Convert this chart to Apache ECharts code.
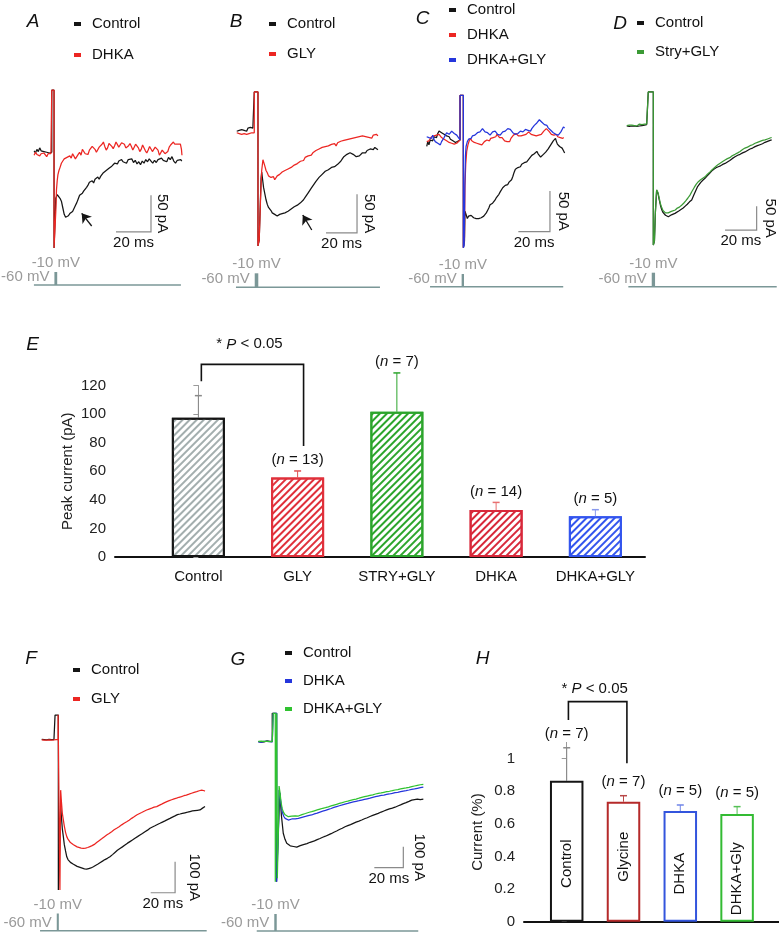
<!DOCTYPE html>
<html>
<head>
<meta charset="utf-8">
<script src="https://cdn.jsdelivr.net/npm/echarts@6/dist/echarts.min.js"></script>
<style>
html, body { margin: 0; padding: 0; background: #fff; }
#container { width: 779px; height: 933px; }
</style>
</head>
<body>
<div id="container"></div>
<script>
var dom = document.getElementById('container');
var myChart = echarts.init(dom, null, { renderer: 'canvas' });
var FONT = '"Liberation Sans", Arial, Helvetica, sans-serif';

// ---- panel A (ms, pA) ----
var aControl = [[-10.8,3],[-10,0],[-9.2,5],[-8.4,2],[-7.6,7],[-6.8,3],[-6,5],[-5.2,2],[-4.4,4],[-3.6,1],[-2.8,3],[-2,0],[-1.2,1],
  [-0.7,1],[-0.7,86],[0.6,86],[0.6,-130],[1.2,-128],[1.6,-62],
  [2.4,-57],[3.2,-58],[4.0,-62],[4.8,-66],[5.6,-75],[6.4,-84],[7.2,-88],[8.0,-90],[8.8,-86],[9.6,-83],[10.4,-85],[11.2,-80],[12.0,-78],
  [12.8,-72],[13.6,-68],[14.4,-63],[15.2,-58],[16.0,-60],[16.8,-55],[17.6,-52],[18.4,-53],[19.2,-47],[20.0,-44],[20.8,-40],[21.6,-41],
  [22.4,-38],[23.2,-41],[24.0,-36],[24.8,-38],[25.6,-33],[26.4,-36],[27.2,-32],[28.0,-30],[28.8,-27],[29.6,-29],[30.4,-24],[31.2,-26],
  [32.0,-21],[32.8,-23],[33.6,-18],[34.4,-20],[35.2,-14],[36.0,-12],[36.8,-15],[37.6,-11],[38.4,-13],[39.2,-9],[40.0,-12],[41.0,-10],
  [42.0,-14],[43.0,-9],[44.0,-11],[45.0,-8],[46.0,-13],[47.0,-10],[48.0,-15],[49.0,-12],[50.0,-16],[51.0,-11],[52.0,-14],[53.0,-9],
  [54.0,-12],[55.0,-8],[56.0,-11],[57.0,-14],[58.0,-10],[59.0,-13],[60.0,-9],[61.0,-11],[62.0,-7],[63.0,-10],[64.0,-8],[65.0,-12],
  [66.0,-6],[67.0,-9],[68.0,-5],[69.0,-11],[70.0,-14],[71.0,-10],[72.0,-12],[73.0,-9],[73.6,-11]];
var aDhka = [[-10.8,-3],[-10,1],[-9.2,-2],[-8.4,0],[-7.6,-4],[-6.8,-1],[-6,-3],[-5.2,0],[-4.4,-2],[-3.6,-5],[-2.8,-1],[-2,-3],[-1.2,-1],
  [-0.7,0],[-0.7,86],[0.6,86],[0.6,-130],[1.2,-128],[1.6,-80],[2.0,-50],[2.4,-38],[2.8,-30],[3.4,-24],[4.0,-20],[4.8,-14],[5.6,-11],
  [6.4,-8],[7.2,-10],[8.0,-6],[8.8,-8],[9.6,-4],[10.4,-7],[11.2,-1],[12.0,-3],[12.8,-8],[13.6,-6],[14.4,-2],[15.2,1],[16.0,-3],[16.8,5],
  [17.6,3],[18.4,-1],[19.2,1],[20.0,-2],[20.8,4],[21.6,2],[22.4,9],[23.2,11],[24.0,5],[24.8,1],[25.6,3],[26.4,8],[27.2,6],[28.0,12],
  [28.8,15],[29.6,9],[30.4,4],[31.2,7],[32.0,13],[32.8,14],[33.6,9],[34.4,6],[35.2,10],[36.0,15],[36.8,13],[37.6,8],[38.4,10],[39.2,14],
  [40.0,16],[40.8,12],[41.6,7],[42.4,5],[43.2,10],[44.0,13],[44.8,9],[45.6,4],[46.4,8],[47.2,12],[48.0,14],[48.8,7],[49.6,2],[50.4,5],
  [51.2,11],[52.0,9],[52.8,3],[53.6,0],[54.4,4],[55.2,9],[56.0,7],[56.8,2],[57.6,3],[58.4,8],[59.2,9],[60.0,4],[60.8,-3],[61.6,-1],
  [62.4,4],[63.2,3],[64.0,-1],[64.8,-3],[65.6,2],[66.4,8],[67.2,11],[68.0,13],[68.8,15],[69.6,12],[70.4,10],[71.2,12],[72.0,14],
  [72.8,12],[73.4,5],[73.7,-3]];

// ---- panel B ----
var bControl = [[-12.1,1],[-11.3,-1],[-10.5,2],[-9.7,0],[-8.9,3],[-8.1,1],[-7.3,2],[-6.5,3],[-5.7,1],[-4.9,5],[-4.1,3],[-3.3,6],[-2.5,4],[-1.7,5],
  [-0.8,3],[-0.8,52],[1.6,52],[1.6,-148],[2.4,-140],[3.0,-100],[3.6,-60],[4.0,-52],[4.6,-62],[5.2,-72],[6.0,-80],[6.8,-88],[7.6,-94],
  [8.4,-98],[9.2,-100],[10.0,-102],[10.8,-105],[11.6,-104],[12.4,-107],[13.2,-106],[14.0,-109],[14.8,-110],[15.6,-107],[16.4,-109],
  [17.2,-106],[18.0,-108],[19.0,-105],[20.0,-106],[21.0,-103],[22.0,-104],[23.0,-100],[24.0,-101],[25.0,-97],[26.0,-98],[27.0,-95],
  [28.0,-94],[29.0,-92],[30.0,-90],[31.0,-88],[32.0,-85],[33.0,-82],[34.0,-79],[35.0,-77],[36.0,-73],[37.0,-70],[38.0,-67],[39.0,-64],
  [40.0,-62],[41.0,-59],[42.0,-57],[43.0,-55],[44.0,-53],[45.0,-51],[46.0,-50],[47.0,-49],[48.0,-48],[49.0,-46],[50.0,-47],[51.0,-45],
  [52.0,-44],[53.0,-42],[54.0,-41],[55.0,-38],[56.0,-35],[57.0,-32],[58.0,-30],[59.0,-29],[60.0,-28],[61.0,-27],[62.0,-28],[63.0,-29],
  [64.0,-31],[65.0,-32],[66.0,-30],[67.0,-31],[68.0,-29],[69.0,-27],[70.0,-26],[71.0,-27],[72.0,-24],[73.0,-25],[74.0,-22],[75.0,-21],
  [76.0,-23],[77.0,-20],[78.0,-22],[79.0,-23]];
var bGly = [[-12.1,-1],[-11.3,1],[-10.5,-2],[-9.7,0],[-8.9,-3],[-8.1,-1],[-7.3,-2],[-6.5,0],[-5.7,-3],[-4.9,-1],[-4.1,-2],[-3.3,-4],[-2.5,-1],
  [-1.7,-2],[-0.8,-1],[-0.8,52],[1.6,52],[1.6,-148],[2.4,-140],[3.2,-90],[4.0,-50],[4.8,-36],[5.4,-38],[6.0,-44],[6.8,-50],[7.6,-53],
  [8.4,-57],[9.2,-56],[10.0,-59],[10.8,-61],[11.6,-58],[12.4,-62],[13.2,-60],[14.0,-57],[14.8,-58],[15.6,-55],[16.4,-56],[17.2,-52],
  [18.0,-54],[19.0,-50],[20.0,-51],[21.0,-48],[22.0,-49],[23.0,-46],[24.0,-47],[25.0,-43],[26.0,-44],[27.0,-41],[28.0,-42],[29.0,-38],
  [30.0,-36],[31.0,-37],[32.0,-33],[33.0,-34],[34.0,-31],[35.0,-29],[36.0,-30],[37.0,-27],[38.0,-26],[39.0,-24],[40.0,-25],[41.0,-22],
  [42.0,-23],[43.0,-20],[44.0,-21],[45.0,-19],[46.0,-20],[47.0,-18],[48.0,-19],[49.0,-16],[50.0,-17],[51.0,-15],[52.0,-18],[53.0,-14],
  [54.0,-15],[55.0,-12],[56.0,-14],[57.0,-11],[58.0,-13],[59.0,-10],[60.0,-12],[61.0,-9],[62.0,-11],[63.0,-8],[64.0,-10],[65.0,-7],
  [66.0,-9],[67.0,-6],[68.0,-8],[69.0,-5],[70.0,-7],[71.0,-6],[72.0,-4],[73.0,-7],[74.0,-5],[75.0,-8],[76.0,-4],[77.0,-6],[78.0,-3],[79.0,-5]];

// ---- panel C ----
var cControl = [[-21.7,-8],[-21,-2],[-20.3,-6],[-19.5,0],[-18.7,2],[-17.9,-1],[-17.1,4],[-16.3,6],[-15.5,3],[-14.7,8],[-13.9,11],[-13.1,12],
  [-12.3,9],[-11.5,10],[-10.7,7],[-9.9,8],[-9.1,5],[-8.3,3],[-7.5,4],[-6.7,1],[-5.9,2],[-5.1,-1],[-4.3,0],[-3.5,-3],[-2.7,-2],
  [-0.6,0],[-0.6,55],[1.5,55],[1.5,-133],[2.2,-125],[2.5,-88],[3.2,-92],[4.0,-97],[4.8,-94],[5.6,-96],[6.4,-93],[7.2,-95],[8.0,-96],
  [8.8,-94],[9.6,-97],[10.4,-95],[11.2,-97],[12.0,-98],[12.8,-96],[13.6,-97],[14.4,-94],[15.2,-93],[16.0,-90],[16.8,-87],[17.6,-84],
  [18.4,-80],[19.2,-81],[20.0,-78],[20.8,-76],[21.6,-74],[22.4,-71],[23.2,-69],[24.0,-67],[24.8,-64],[25.6,-62],[26.4,-59],[27.2,-57],
  [28.0,-56],[28.8,-54],[29.6,-55],[30.4,-52],[31.2,-53],[32.0,-49],[32.8,-45],[33.6,-40],[34.4,-36],[35.2,-37],[36.0,-34],[36.8,-32],
  [37.6,-33],[38.4,-30],[39.2,-31],[40.0,-28],[40.8,-29],[41.6,-27],[42.4,-25],[43.2,-23],[44.0,-21],[44.8,-19],[45.6,-20],[46.4,-17],
  [47.2,-15],[48.0,-14],[48.8,-17],[49.6,-19],[50.4,-21],[51.2,-20],[52.0,-18],[52.8,-17],[53.6,-15],[54.4,-13],[55.2,-11],[56.0,-9],
  [56.8,-6],[57.6,-4],[58.4,-1],[59.2,1],[59.8,2],[60.4,-2],[61.0,-5],[61.6,-6],[62.4,-8],[63.2,-7],[64.0,-10],[64.8,-13],[65.6,-16]];
var cDhka = [[-21.7,-2],[-21,-4],[-20.3,-1],[-19.5,1],[-18.7,4],[-17.9,2],[-17.1,5],[-16.3,3],[-15.5,6],[-14.7,4],[-13.9,7],[-13.1,5],
  [-12.3,3],[-11.5,4],[-10.7,1],[-9.9,2],[-9.1,-1],[-8.3,0],[-7.5,-3],[-6.7,-1],[-5.9,-4],[-5.1,-2],[-4.3,-5],[-3.5,-3],[-2.7,-4],
  [-0.6,0],[-0.6,55],[1.5,55],[1.5,-133],[2.2,-120],[2.5,-56],[3.0,-30],[3.6,-14],[4.4,-6],[5.2,-1],[6.0,2],[6.8,-1],[7.6,0],[8.4,-3],
  [9.2,-1],[10,-4],[10.8,-2],[11.6,-5],[12.4,-3],[13.2,-6],[14,-5],[14.8,-2],[15.6,-4],[16.4,0],[17.2,-2],[18,-1],[18.8,2],[19.6,0],
  [20.4,3],[21.2,5],[22,4],[22.8,7],[23.6,5],[24.4,3],[25.2,1],[26,3],[26.8,2],[27.6,-1],[28.4,1],[29.2,-2],[30,0],[30.8,-2],[31.6,2],
  [32.4,4],[33.2,6],[34,5],[34.8,8],[35.6,7],[36.4,5],[37.2,3],[38,5],[38.8,4],[39.6,6],[40.4,8],[41.2,7],[42,9],[42.8,10],[43.6,9],
  [44.4,7],[45.2,5],[46,6],[46.8,4],[47.6,5],[48.4,3],[49.2,6],[50,8],[50.8,7],[51.6,9],[52.4,11],[53.2,12],[54,14],[54.8,13],[55.6,11],
  [56.4,9],[57.2,7],[58,8],[58.8,6],[59.6,5],[60.4,7],[61.2,4],[62,5],[62.8,3],[63.6,4],[64.4,2],[65,3]];
var cDhkaGly = [[-21.7,4],[-21,6],[-20.3,3],[-19.5,5],[-18.7,2],[-17.9,6],[-17.1,1],[-16.3,-2],[-15.5,0],[-14.7,-4],[-13.9,-3],[-13.1,-6],
  [-12.3,-2],[-11.5,0],[-10.7,3],[-9.9,6],[-9.1,9],[-8.3,10],[-7.5,7],[-6.7,9],[-5.9,11],[-5.1,10],[-4.3,8],[-3.5,9],[-2.7,6],
  [-0.6,0],[-0.6,55],[1.5,55],[1.5,-133],[2.0,-130],[2.4,-60],[2.8,-20],[3.2,-8],[4.0,-2],[4.8,1],[5.6,3],[6.4,2],[7.2,5],[8,7],[8.8,6],
  [9.6,8],[10.4,9],[11.2,11],[12,10],[12.8,12],[13.6,14],[14.4,12],[15.2,10],[16,8],[16.8,9],[17.6,7],[18.4,6],[19.2,8],[20,10],[20.8,9],
  [21.6,11],[22.4,9],[23.2,7],[24,8],[24.8,6],[25.6,8],[26.4,10],[27.2,12],[28,11],[28.8,13],[29.6,14],[30.4,15],[31.2,13],[32,11],
  [32.8,9],[33.6,8],[34.4,7],[35.2,6],[36,8],[36.8,9],[37.6,11],[38.4,12],[39.2,10],[40,12],[40.8,13],[41.6,11],[42.4,12],[43.2,10],
  [44,11],[44.8,14],[45.6,16],[46.4,18],[47.2,19],[48,21],[48.8,23],[49.6,25],[50.4,24],[51.2,22],[52,20],[52.8,19],[53.6,20],[54.4,18],
  [55.2,15],[56,14],[56.8,12],[57.6,10],[58.4,9],[59.2,8],[60,7],[60.8,8],[61.6,6],[62.4,7],[63.2,10],[64,13],[64.8,16],[65.6,15]];

// ---- panel D ----
var dControl = [[-14.7,0],[-13.9,1],[-13.1,-1],[-12.3,1],[-11.5,0],[-10.7,2],[-9.9,0],[-9.1,1],[-8.3,-1],[-7.5,1],[-6.7,0],[-5.9,2],[-5.1,1],
  [-4.3,3],[-3.5,2],[-2.7,4],[-2.1,3],[-1.1,3],[-1.1,71],[2.1,71],[2.1,-248],[2.8,-240],[3.4,-180],[4.2,-134],[5.0,-140],[5.8,-153],
  [6.6,-165],[7.4,-174],[8.2,-180],[9.0,-184],[9.8,-186],[10.6,-188],[11.6,-189],[12.6,-187],[13.6,-185],[14.7,-184],[15.8,-182],
  [17,-179],[18.2,-177],[19.6,-174],[21,-171],[22.3,-167],[23.6,-163],[25,-158],[26.4,-154],[27.6,-145],[28.8,-136],[30,-127],
  [30.6,-123],[32,-118],[33.4,-113],[34.8,-109],[36.2,-104],[37.6,-99],[39,-94],[40.4,-90],[41.8,-87],[43.2,-85],[44.6,-83],[46,-80],
  [47.5,-78],[49,-75],[50.5,-72],[52,-68],[53.8,-64],[55.5,-61],[57,-59],[58.6,-56],[60.1,-54],[61.7,-51],[63.3,-48],[64.9,-46],
  [66.5,-43],[68,-41],[69.6,-39],[71.2,-37],[72.8,-34],[74.4,-32],[76,-30],[77,-29]];
var dStryGly = [[-14.7,1],[-13.9,-1],[-13.1,2],[-12.3,0],[-11.5,2],[-10.7,-1],[-9.9,1],[-9.1,3],[-8.3,0],[-7.5,2],[-6.7,4],[-5.9,1],
  [-5.1,3],[-4.3,1],[-3.5,4],[-2.7,2],[-2.1,4],[-1.1,3],[-1.1,71],[2.1,71],[2.1,-248],[2.8,-240],[3.4,-180],[4.2,-133],[5.0,-138],
  [5.8,-150],[6.6,-162],[7.4,-170],[8.2,-176],[9.0,-179],[9.8,-181],[10.5,-182],[11.5,-181],[12.5,-180],[13.5,-178],[14.7,-177],
  [16,-175],[17.3,-171],[18.6,-169],[20,-165],[21.3,-161],[22.6,-156],[24,-150],[25.3,-144],[26.6,-136],[28,-128],[29.3,-121],
  [30.6,-116],[32,-112],[33.4,-109],[34.8,-106],[36.2,-101],[37.6,-97],[39,-92],[40.4,-88],[41.8,-84],[43.2,-80],[44.6,-77],[46,-74],
  [47.5,-71],[49,-68],[50.5,-66],[52,-62],[53.8,-59],[55.5,-56],[57,-53],[58.6,-49],[60.1,-46],[61.7,-44],[63.3,-41],[64.9,-39],
  [66.5,-36],[68,-34],[69.6,-32],[71.2,-30],[72.8,-29],[74.4,-27],[76,-25],[77,-24]];

// ---- panel F ----
var fControl = [[-12.5,0],[-11.5,2],[-10.5,-1],[-9.5,1],[-8.5,-2],[-7.5,1],[-6.5,0],[-5.5,2],[-4.5,-1],[-3.5,1],[-2.5,-1],[-1.6,0],
  [-1.6,78],[1.1,78],[1.1,-486],[2.2,-486],[2.6,-300],[3.0,-212],[3.6,-250],[4.4,-290],[5.2,-314],[6.0,-340],[7.0,-360],[8.0,-379],
  [9.0,-388],[10.0,-393],[11.0,-397],[12.0,-400],[13.5,-403],[15.0,-407],[16.5,-410],[18.0,-412],[19.5,-414],[21.0,-416],[22.5,-418],
  [24.3,-419],[26,-417],[27.8,-415],[29.8,-411],[31.5,-407],[33.3,-403],[35.2,-398],[37.3,-393],[39.3,-388],[41.3,-384],[43.4,-379],
  [45.5,-372],[47.5,-365],[49.5,-358],[51.6,-352],[53.6,-347],[55.7,-341],[57.8,-335],[59.8,-330],[61.8,-325],[63.9,-319],[66,-314],
  [68,-309],[70,-304],[72.1,-298],[74.2,-293],[76.2,-287],[78.2,-283],[80.3,-279],[82.3,-275],[84.4,-271],[86.4,-267],[88.5,-263],
  [90.5,-259],[92.6,-255],[94.6,-251],[96.7,-247],[98.7,-243],[100.8,-241],[102.8,-239],[104.9,-237],[107,-235],[109,-233],[111,-231],
  [113,-230],[115,-229],[117.2,-228],[119.3,-222],[121.3,-217]];
var fGly = [[-12.5,-2],[-11.5,0],[-10.5,-3],[-9.5,-1],[-8.5,-3],[-7.5,-1],[-6.5,-2],[-5.5,0],[-4.5,-3],[-3.5,-1],[-2.5,-2],[-1.6,-1],
  [0.9,0],[0.9,79],[2.4,79],[2.4,-486],[2.8,-486],[3.0,-164],[3.6,-200],[4.4,-240],[5.2,-260],[6.0,-280],[7.0,-300],[8.0,-314],
  [9.0,-322],[10,-328],[11,-333],[12,-336],[13.5,-340],[15,-344],[16.5,-347],[18,-349],[19.8,-351],[21.6,-352],[23.4,-351],[25.2,-349],
  [27,-346],[28.8,-343],[30.6,-339],[32.5,-333],[34.5,-327],[36.6,-321],[38.6,-315],[40.7,-309],[42.7,-304],[44.8,-298],[46.8,-292],
  [48.9,-287],[50.9,-282],[53,-276],[55,-271],[57.1,-266],[59.1,-261],[61.2,-255],[63.2,-250],[65.3,-244],[67.3,-240],[69.4,-236],
  [71.4,-232],[73.5,-228],[75.5,-225],[77.6,-222],[79.6,-219],[81.7,-217],[83.7,-213],[85.8,-209],[87.8,-205],[90,-201],[92,-198],
  [94,-195],[96,-192],[98,-190],[100,-187],[102,-185],[104,-182],[106,-180],[108.2,-177],[110.3,-174],[112.4,-171],[114.5,-169],
  [116.6,-166],[118.6,-164],[120.7,-166],[121.3,-167]];

// ---- panel G ----
var gControl = [[-11.5,0],[-10.5,3],[-9.5,-2],[-8.5,2],[-7.5,-1],[-6.5,1],[-5.5,4],[-4.5,0],[-3.5,2],[-2.5,-1],[-1.9,0],[-1.9,135],
  [1.0,135],[1.0,-667],[2.0,-667],[2.4,-400],[3.4,-246],[4.4,-350],[5.7,-436],[6.9,-465],[8.1,-484],[9.3,-492],[10.5,-496],[11.7,-494],
  [12.8,-499],[13.8,-500],[15,-502],[16.2,-497],[17.4,-495],[18.4,-492],[19.6,-490],[20.8,-486],[22,-485],[23.1,-481],[24.2,-479],
  [25.3,-476],[27.2,-472],[29.1,-466],[31,-461],[32.9,-455],[34.8,-450],[36.8,-444],[38.7,-438],[40.6,-431],[42.5,-425],[44.4,-418],
  [46.4,-412],[48.3,-405],[50.2,-400],[52.1,-395],[54,-389],[55.9,-383],[57.9,-378],[59.8,-373],[61.7,-367],[63.6,-362],[65.5,-356],
  [67.4,-351],[69.3,-346],[71.2,-341],[73.2,-335],[75.1,-330],[77,-325],[78.9,-320],[80.9,-316],[82.8,-312],[84.7,-306],[86.6,-301],
  [88.5,-295],[90.4,-290],[92.4,-284],[94.3,-278],[96.2,-276],[98.2,-274],[100.2,-276],[102.3,-274]];
var gDhka = [[-11.5,-1],[-10.5,1],[-9.5,-2],[-8.5,0],[-7.5,2],[-6.5,-1],[-5.5,1],[-4.5,-2],[-3.5,0],[-2.5,1],[-1.9,-1],
  [-1.2,0],[-1.2,135],[1.2,135],[1.2,-667],[2.0,-660],[2.4,-420],[2.8,-230],[3.4,-250],[4.2,-300],[5.0,-335],[6,-355],[7,-365],[8,-370],
  [9.2,-373],[10.4,-371],[11.6,-368],[12.8,-369],[14,-367],[15,-365],[16.1,-365],[17.4,-362],[18.6,-360],[19.8,-358],[21,-356],
  [22.3,-354],[23.6,-351],[25.3,-349],[27.2,-344],[29.1,-340],[31,-335],[32.9,-331],[34.8,-327],[36.8,-322],[38.7,-318],[40.6,-313],
  [42.5,-309],[44.4,-305],[46.4,-301],[48.3,-297],[50.2,-294],[52.1,-290],[54,-287],[55.9,-284],[57.9,-281],[59.8,-278],[61.7,-275],
  [63.6,-272],[65.5,-269],[67.4,-265],[69.3,-262],[71.2,-259],[73.2,-256],[75.1,-254],[77,-251],[78.9,-249],[80.9,-246],[82.8,-243],
  [84.7,-241],[86.6,-238],[88.5,-235],[90.4,-233],[92.4,-230],[94.3,-227],[96.2,-225],[98.2,-222],[100.2,-219],[102.3,-216]];
var gDhkaGly = [[-11.5,2],[-10.5,0],[-9.5,3],[-8.5,-1],[-7.5,2],[-6.5,0],[-5.5,1],[-4.5,3],[-3.5,0],[-2.5,2],[-1.9,1],
  [-1.2,0],[-1.2,135],[0.2,135],[0.2,-667],[1.2,-667],[1.2,135],[1.6,135],[1.6,-650],[2.4,-400],[2.8,-211],[3.4,-240],[4.2,-290],
  [5.0,-320],[6,-338],[7,-348],[8,-353],[9.2,-357],[10.4,-356],[11.6,-354],[12.8,-355],[14,-353],[15,-352],[16.1,-354],[17.4,-350],
  [18.6,-347],[19.8,-345],[21,-342],[22.3,-340],[23.6,-336],[25.3,-333],[27.2,-329],[29.1,-325],[31,-321],[32.9,-317],[34.8,-314],
  [36.8,-310],[38.7,-306],[40.6,-302],[42.5,-298],[44.4,-294],[46.4,-290],[48.3,-286],[50.2,-283],[52.1,-279],[54,-276],[55.9,-273],
  [57.9,-269],[59.8,-265],[61.7,-262],[63.6,-259],[65.5,-256],[67.4,-253],[69.3,-249],[71.2,-246],[73.2,-244],[75.1,-241],[77,-238],
  [78.9,-236],[80.9,-233],[82.8,-230],[84.7,-228],[86.6,-225],[88.5,-222],[90.4,-220],[92.4,-217],[94.3,-214],[96.2,-211],[98.2,-208],
  [100.2,-205],[102.3,-203]];

// voltage command: [line start ms, line end ms, step start ms, step end ms]
var protoA = [-10.9, 73.1, 0.8, 2.4];
var protoB = [-12.6, 80.3, -0.5, 1.8];
var protoC = [-19.6, 64.7, 0.4, 1.9];
var protoD = [-13.7, 80.2, 1.1, 3.2];
var protoF = [-13.9, 122.7, -0.2, 1.5];
var protoG = [-12.6, 98.8, -0.5, 1.2];
// scale bars: [t start, I start, ms length, pA length]
var scaleA = [36, -108, 20, 50];
var scaleB = [45.5, -131, 20, 50];
var scaleC = [36.3, -113, 20, 50];
var scaleD = [47.5, -217, 20, 50];
var scaleF = [76.8, -495, 20, 100];
var scaleG = [68.5, -600, 20, 100];
var arrowA = [[22.1, -100], [16.4, -82.6]];
var arrowB = [[36.3, -127.3], [30.5, -107.8]];

// ---- panel E ----
var eCats = ['Control', 'GLY', 'STRY+GLY', 'DHKA', 'DHKA+GLY'];
var eMean = [97.5, 55.6, 101.6, 32.8, 28.5];
var eErr = [15.4, 4.6, 27.2, 5.4, 4.6];
var eN = ['', '13', '7', '14', '5'];
var eSig = [0.03, 1.06, 134.8, 123, 77.6];

// ---- panel H ----
var hCats = ['Control', 'Glycine', 'DHKA', 'DHKA+Gly'];
var hMean = [0.865, 0.736, 0.679, 0.661];
var hErr = [0.202, 0.037, 0.037, 0.045];
var hN = ['7', '7', '5', '5'];
var hSig = [0.03, 1.06, 1.35, 1.237, 0.972];
var hTicks = [0, 0.2, 0.4, 0.6, 0.8, 1];

var BLACK = '#151515', RED = '#ec2622', BLUE = '#2536dc', GREEN = '#3b9a35', LGREEN = '#30c230', PROTO = '#7b9797';

var panels = [
  { key: 'A', x0: 53, sx: 1.75, y0: 153, sy: 0.73, vLine: 285, vTop: 272, left: 20, top: 80, width: 180, height: 220,
    traces: [['Control', aControl, BLACK], ['DHKA', aDhka, RED]], proto: protoA, scale: scaleA, units: ['20 ms', '50 pA'], yGap: 11,
    legend: [74, 15, 13], arrow: arrowA },
  { key: 'B', x0: 255.5, sx: 1.55, y0: 132, sy: 0.77, vLine: 287.3, vTop: 273.3, left: 215, top: 80, width: 180, height: 220,
    traces: [['Control', bControl, BLACK], ['GLY', bGly, RED]], proto: protoB, scale: scaleB, units: ['20 ms', '50 pA'], yGap: 12,
    legend: [269, 15, 12], arrow: arrowB },
  { key: 'C', x0: 461, sx: 1.58, y0: 140, sy: 0.81, vLine: 286.7, vTop: 274, left: 400, top: 80, width: 180, height: 220,
    traces: [['Control', cControl, BLACK], ['DHKA', cDhka, RED], ['DHKA+GLY', cDhkaGly, BLUE]], proto: protoC, scale: scaleC,
    units: ['20 ms', '50 pA'], yGap: 13, legend: [449, 1, 7] },
  { key: 'D', x0: 650, sx: 1.58, y0: 126, sy: 0.48, vLine: 286.7, vTop: 272.7, left: 600, top: 80, width: 179, height: 220,
    traces: [['Control', dControl, BLACK], ['Stry+GLY', dStryGly, GREEN]], proto: protoD, scale: scaleD,
    units: ['20 ms', '50 pA'], yGap: 13, legend: [637, 14, 11] },
  { key: 'F', x0: 57, sx: 1.22, y0: 739.3, sy: 0.31, vLine: 930.7, vTop: 913.5, left: 20, top: 700, width: 200, height: 233,
    traces: [['Control', fControl, BLACK], ['GLY', fGly, RED]], proto: protoF, scale: scaleF,
    units: ['20 ms', '100 pA'], yGap: 19, legend: [73, 661, 11] },
  { key: 'G', x0: 275, sx: 1.45, y0: 741.7, sy: 0.21, vLine: 931, vTop: 914, left: 240, top: 700, width: 200, height: 233,
    traces: [['Control', gControl, BLACK], ['DHKA', gDhka, BLUE], ['DHKA+GLY', gDhkaGly, LGREEN]], proto: protoG, scale: scaleG,
    units: ['20 ms', '100 pA'], yGap: 16, legend: [285, 644, 10] }
];

var grids = [], xAxes = [], yAxes = [], series = [], legends = [];
function txt(s) {
  return { fontSize: 15, fontFamily: FONT, fill: s || '#111' };
}

panels.forEach(function (p, k) {
  grids.push({ left: p.left, top: p.top, width: p.width, height: p.height });
  xAxes.push({ type: 'value', gridIndex: k, show: false, min: (p.left - p.x0) / p.sx, max: (p.left + p.width - p.x0) / p.sx });
  yAxes.push({ type: 'value', gridIndex: k, show: false, min: (p.y0 - p.top - p.height) / p.sy, max: (p.y0 - p.top) / p.sy });
  var sv = (p.vLine - p.vTop) / 50;
  yAxes.push({ type: 'value', gridIndex: k, show: false, min: -60 - (p.top + p.height - p.vLine) / sv, max: -60 + (p.vLine - p.top) / sv });

  var names = [];
  p.traces.forEach(function (tr) {
    var nm = p.key + '·' + tr[0];
    names.push(nm);
    series.push({
      type: 'line', name: nm, xAxisIndex: k, yAxisIndex: 2 * k, data: tr[1],
      showSymbol: false, symbol: 'none', clip: false, silent: true, animation: false,
      lineStyle: { color: tr[2], width: 1.25 }, itemStyle: { color: tr[2] }
    });
  });
  legends.push({
    orient: 'vertical', left: p.legend[0], top: p.legend[1], itemGap: p.legend[2], padding: 0,
    icon: 'rect', itemWidth: 7, itemHeight: 4, selectedMode: false, data: names,
    formatter: function (n) { return n.split('·')[1]; },
    textStyle: { fontSize: 15, fontFamily: FONT, color: '#111', lineHeight: 18, padding: [0, 0, 0, 6] }
  });

  // voltage protocol
  series.push({
    type: 'custom', xAxisIndex: k, yAxisIndex: 2 * k + 1, data: [p.proto], silent: true, animation: false, clip: false,
    renderItem: function (params, api) {
      var a = api.coord([api.value(0), -60]), b = api.coord([api.value(1), -60]);
      var s0 = api.coord([api.value(2), -10]), s1 = api.coord([api.value(3), -60]);
      return { type: 'group', children: [
        { type: 'line', shape: { x1: a[0], y1: a[1], x2: b[0], y2: b[1] }, style: { stroke: PROTO, lineWidth: 1.6 } },
        { type: 'rect', shape: { x: s0[0], y: s0[1], width: s1[0] - s0[0], height: s1[1] - s0[1] }, style: { fill: PROTO } },
        { type: 'text', x: (s0[0] + s1[0]) / 2, y: s0[1] - 9,
          style: Object.assign(txt('#9a9a9a'), { text: '-10 mV', align: 'center', verticalAlign: 'middle' }) },
        { type: 'text', x: s0[0] - 5, y: a[1] - 8,
          style: Object.assign(txt('#9a9a9a'), { text: '-60 mV', align: 'right', verticalAlign: 'middle' }) }
      ] };
    }
  });

  // scale bar
  series.push({
    type: 'custom', xAxisIndex: k, yAxisIndex: 2 * k, data: [p.scale], silent: true, animation: false, clip: false,
    renderItem: function (params, api) {
      var t0 = api.value(0), i0 = api.value(1), tl = api.value(2), il = api.value(3);
      var p0 = api.coord([t0, i0]), p1 = api.coord([t0 + tl, i0]), p2 = api.coord([t0 + tl, i0 + il]);
      return { type: 'group', children: [
        { type: 'polyline', shape: { points: [p0, p1, p2] }, style: { stroke: '#8a8a8a', lineWidth: 1.2, fill: 'none' } },
        { type: 'text', x: (p0[0] + p1[0]) / 2, y: p0[1] + 11,
          style: Object.assign(txt(), { text: p.units[0], align: 'center', verticalAlign: 'middle' }) },
        { type: 'text', x: p1[0] + p.yGap, y: (p1[1] + p2[1]) / 2, rotation: -Math.PI / 2,
          style: Object.assign(txt(), { text: p.units[1], align: 'center', verticalAlign: 'middle' }) }
      ] };
    }
  });

  if (p.arrow) {
    series.push({
      type: 'lines', coordinateSystem: 'cartesian2d', xAxisIndex: k, yAxisIndex: 2 * k,
      data: [{ coords: p.arrow }], symbol: ['none', 'arrow'], symbolSize: 9, silent: true, animation: false,
      lineStyle: { color: BLACK, width: 1.3, opacity: 1 }
    });
  }
});

// ---- bar panels ----
function barPanel(gi, cfg) {
  grids.push(cfg.grid);
  xAxes.push({ type: 'value', gridIndex: gi, min: cfg.xMin, max: cfg.xMax,
    axisLine: { show: true, onZero: true, lineStyle: { color: '#111', width: 2 } },
    axisTick: { show: false }, axisLabel: { show: false }, splitLine: { show: false } });
  yAxes.push(Object.assign({ type: 'value', gridIndex: gi,
    axisLine: { show: true, lineStyle: { color: '#9a9a9a', width: 1 } },
    axisTick: { show: true, length: 5, lineStyle: { color: '#9a9a9a' } },
    axisLabel: { margin: 9, fontSize: 15, fontFamily: FONT, color: '#222' },
    splitLine: { show: false },
    name: cfg.yName, nameLocation: 'middle', nameRotate: 90, nameGap: cfg.nameGap, nameMoveOverlap: false,
    nameTextStyle: { fontSize: 15, fontFamily: FONT, color: '#222' } }, cfg.y));
  var yi = yAxes.length - 1, xi = xAxes.length - 1;
  series.push({
    type: 'bar', xAxisIndex: xi, yAxisIndex: yi, barWidth: cfg.barWidth, silent: true, animation: false, z: 2,
    data: cfg.cats.map(function (c, i) {
      var st = { color: '#fff', borderColor: cfg.edge[i], borderWidth: 2 };
      if (cfg.hatch) {
        st.decal = { symbol: 'rect', symbolSize: 1, color: cfg.hatch[i], dashArrayX: [1, 0], dashArrayY: [1.2, 2.6], rotation: -Math.PI / 4 };
      }
      return { value: [i, cfg.mean[i]], itemStyle: st };
    })
  });
  series.push({
    type: 'custom', xAxisIndex: xi, yAxisIndex: yi, silent: true, animation: false, clip: false, z: 5,
    data: cfg.cats.map(function (c, i) { return [i, cfg.mean[i], cfg.err[i]]; }),
    renderItem: function (params, api) {
      var i = params.dataIndex;
      var x = api.value(0), m = api.value(1), e = api.value(2);
      var b = api.coord([x, m]), t = api.coord([x, m + e]), base = api.coord([x, 0]);
      var ch = [
        { type: 'line', shape: { x1: b[0], y1: b[1], x2: t[0], y2: t[1] }, style: { stroke: cfg.errCol[i], lineWidth: 1 } },
        { type: 'line', shape: { x1: t[0] - 3.5, y1: t[1], x2: t[0] + 3.5, y2: t[1] }, style: { stroke: cfg.errCol[i], lineWidth: 1.5 } }
      ];
      if (cfg.n[i]) {
        ch.push({ type: 'text', x: t[0], y: t[1] - cfg.nGap,
          style: Object.assign(txt(), { text: '({i|n} = ' + cfg.n[i] + ')', align: 'center', verticalAlign: 'middle',
            rich: { i: { fontStyle: 'italic', fontSize: 15, fontFamily: FONT, fill: '#111' } } }) });
      }
      if (cfg.rotLabels) {
        ch.push({ type: 'text', x: base[0], y: base[1] - cfg.labelLift[i], rotation: Math.PI / 2, z2: 10,
          style: Object.assign(txt(), { text: cfg.cats[i], align: 'center', verticalAlign: 'middle' }) });
      } else {
        ch.push({ type: 'text', x: base[0], y: base[1] + 20,
          style: Object.assign(txt(), { text: cfg.cats[i], align: 'center', verticalAlign: 'middle' }) });
      }
      return { type: 'group', children: ch };
    }
  });
  series.push({
    type: 'custom', xAxisIndex: xi, yAxisIndex: yi, silent: true, animation: false, clip: false, z: 5, data: [cfg.sig],
    renderItem: function (params, api) {
      var l0 = api.coord([api.value(0), api.value(3)]), l1 = api.coord([api.value(0), api.value(2)]);
      var r1 = api.coord([api.value(1), api.value(2)]), r0 = api.coord([api.value(1), api.value(4)]);
      return { type: 'group', children: [
        { type: 'polyline', shape: { points: [l0, l1, r1, r0] }, style: { stroke: '#111', lineWidth: 1.6, fill: 'none' } },
        { type: 'text', x: (l1[0] + r1[0]) / 2 - 3, y: l1[1] - cfg.sigGap,
          style: Object.assign(txt(), { text: '* {i|P} < 0.05', align: 'center', verticalAlign: 'middle',
            rich: { i: { fontStyle: 'italic', fontSize: 15, fontFamily: FONT, fill: '#111' } } }) }
      ] };
    }
  });
}

barPanel(6, {
  grid: { left: 115, top: 385.5, width: 530, height: 171.5 },
  xMin: -0.84, xMax: 4.5, y: { min: 0, max: 120, interval: 20 },
  yName: 'Peak current (pA)', nameGap: 40, barWidth: 53,
  cats: eCats, mean: eMean, err: eErr, n: eN, sig: eSig, nGap: 11, sigGap: 20,
  edge: ['#151515', '#e0303a', '#2ca52c', '#d8283a', '#3355ee'],
  hatch: ['#a3aeae', '#e0303a', '#2ca52c', '#d8283a', '#3355ee'],
  errCol: ['#8a8a8a', '#e05050', '#2ca52c', '#e87070', '#8899ee']
});
barPanel(7, {
  grid: { left: 524, top: 742.4, width: 255, height: 179.3 },
  xMin: -0.752, xMax: 3.738, y: { min: 0, max: 1.1, axisTick: { show: true, length: 5, customValues: hTicks, lineStyle: { color: '#9a9a9a' } },
    axisLabel: { margin: 9, fontSize: 15, fontFamily: FONT, color: '#222', customValues: hTicks } },
  yName: 'Current (%)', nameGap: 39, barWidth: 33.5,
  cats: hCats, mean: hMean, err: hErr, n: hN, sig: hSig, nGap: 14, sigGap: 13,
  rotLabels: true, labelLift: [58, 65, 48, 43],
  edge: ['#151515', '#b52a2a', '#3355dd', '#33bb33'],
  errCol: ['#8a8a8a', '#b84848', '#6f85e8', '#55c055']
});

var letters = [['A', 33, 22], ['B', 236, 22], ['C', 422.5, 18.5], ['D', 620, 23.5], ['E', 32.5, 345], ['F', 31, 658.5], ['G', 238, 660], ['H', 482.7, 658.5]];

option = {
  backgroundColor: '#fff',
  animation: false,
  grid: grids,
  xAxis: xAxes,
  yAxis: yAxes,
  legend: legends,
  series: series,
  graphic: letters.map(function (l) {
    return { type: 'text', x: l[1], y: l[2], silent: true,
      style: { text: l[0], fontSize: 19, fontStyle: 'italic', fontFamily: FONT, fill: '#111', align: 'center', verticalAlign: 'middle' } };
  })
};
myChart.setOption(option);
</script>
</body>
</html>
